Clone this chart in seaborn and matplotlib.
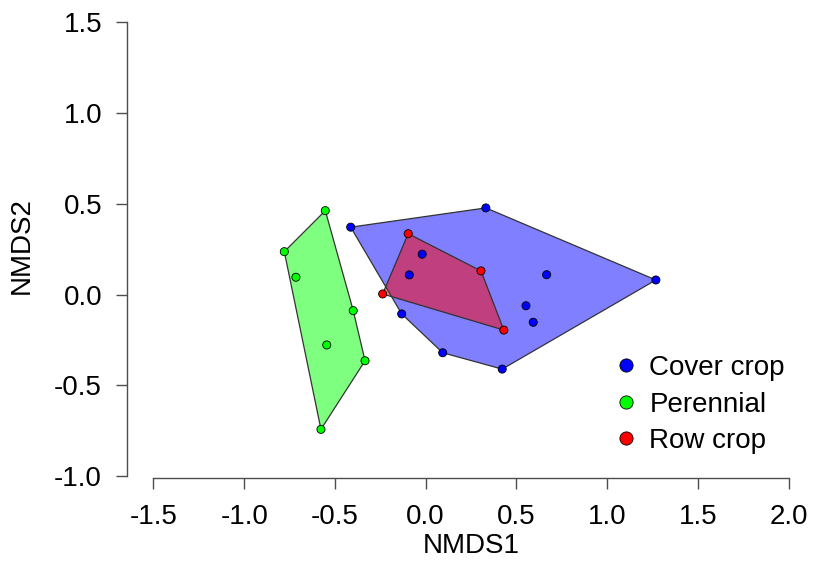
import numpy as np
import pandas as pd
import matplotlib
matplotlib.use("Agg")
import matplotlib.pyplot as plt
from matplotlib.lines import Line2D
import seaborn as sns

# ---- data ----
groups = ["Cover crop", "Perennial", "Row crop"]
colors = ["#0000FF", "#00FF00", "#FF0000"]

cover_x = [-0.413, 0.332, -0.019, -0.090, -0.132, 0.094, 0.422, 0.553, 0.593, 0.667, 1.269]
cover_y = [0.372, 0.478, 0.223, 0.109, -0.106, -0.320, -0.410, -0.061, -0.152, 0.110, 0.081]

peren_x = [-0.553, -0.779, -0.715, -0.399, -0.545, -0.334, -0.577]
peren_y = [0.463, 0.237, 0.096, -0.088, -0.277, -0.364, -0.742]

row_x = [-0.096, 0.305, -0.237, 0.431]
row_y = [0.336, 0.131, 0.004, -0.195]

xticks = [-1.5, -1.0, -0.5, 0.0, 0.5, 1.0, 1.5, 2.0]
yticks = [-1.0, -0.5, 0.0, 0.5, 1.0, 1.5]

df = pd.DataFrame({
    "NMDS1": cover_x + peren_x + row_x,
    "NMDS2": cover_y + peren_y + row_y,
    "group": [groups[0]] * len(cover_x) + [groups[1]] * len(peren_x) + [groups[2]] * len(row_x),
})


def convex_hull(pts):
    pts = sorted(set(pts))
    if len(pts) <= 2:
        return pts

    def cross(o, a, b):
        return (a[0] - o[0]) * (b[1] - o[1]) - (a[1] - o[1]) * (b[0] - o[0])

    lower = []
    for p in pts:
        while len(lower) >= 2 and cross(lower[-2], lower[-1], p) <= 0:
            lower.pop()
        lower.append(p)
    upper = []
    for p in reversed(pts):
        while len(upper) >= 2 and cross(upper[-2], upper[-1], p) <= 0:
            upper.pop()
        upper.append(p)
    return lower[:-1] + upper[:-1]


sns.set_style("white")
plt.rcParams["font.family"] = ["Liberation Sans", "DejaVu Sans"]
plt.rcParams["axes.unicode_minus"] = False

fig = plt.figure(figsize=(8.17, 5.72), dpi=100)
W, H = 817, 572
ax = fig.add_axes([127 / W, 94 / H, 688 / W, 464.3 / H])

# hulls
for g, c in zip(groups, colors):
    sub = df[df["group"] == g]
    hull = convex_hull(list(zip(sub["NMDS1"], sub["NMDS2"])))
    hx = [p[0] for p in hull]
    hy = [p[1] for p in hull]
    ax.fill(hx, hy, facecolor=c, alpha=0.5, edgecolor="none", zorder=1)
    ax.fill(hx, hy, facecolor="none", edgecolor="#333333", linewidth=0.9, zorder=2)

sns.scatterplot(data=df, x="NMDS1", y="NMDS2", hue="group", hue_order=groups,
                palette=colors, s=34, edgecolor="black", linewidth=0.6,
                legend=False, ax=ax, zorder=3)

ax.set_xlim(-1.646, 2.146)
ax.set_ylim(-1.01, 1.548)

ax.set_xticks(xticks)
ax.set_yticks(yticks)
ax.set_xticklabels([f"{v:.1f}" for v in xticks])
ax.set_yticklabels([f"{v:.1f}" for v in yticks])

for side in ["top", "right"]:
    ax.spines[side].set_visible(False)
spine_col = "#4d4d4d"
ax.spines["left"].set_bounds(-1.0, 1.5)
ax.spines["bottom"].set_bounds(-1.5, 2.0)
for side in ["left", "bottom"]:
    ax.spines[side].set_color(spine_col)
    ax.spines[side].set_linewidth(1.0)

ax.tick_params(axis="both", which="major", bottom=True, left=True, direction="out",
               length=8, width=1.0, color=spine_col, labelsize=20, labelcolor="black")
ax.tick_params(axis="x", pad=11)
ax.tick_params(axis="y", pad=10)

ax.set_xlabel("NMDS1", fontsize=20, color="black")
ax.set_ylabel("NMDS2", fontsize=20, color="black")
ax.xaxis.set_label_coords(0.5, -(546 - 478) / 464.3, transform=ax.transAxes)
ax.xaxis.label.set_va("center")
ax.yaxis.set_label_coords(-(127 - 21.5) / 688, 0.5, transform=ax.transAxes)
ax.yaxis.label.set_va("center")

handles = [Line2D([0], [0], marker="o", linestyle="none", markerfacecolor=c,
                  markeredgecolor="black", markeredgewidth=0.6, markersize=9.5)
           for c in colors]
leg = ax.legend(handles, groups, loc="upper left",
                bbox_to_anchor=((609 - 127) / 688, (478 - 355) / 464.3),
                frameon=False, fontsize=20, handletextpad=0.25, labelspacing=0.38,
                borderaxespad=0, borderpad=0, handlelength=1.2)
for t in leg.get_texts():
    t.set_color("black")

fig.savefig("out.png", dpi=100, facecolor="white")
